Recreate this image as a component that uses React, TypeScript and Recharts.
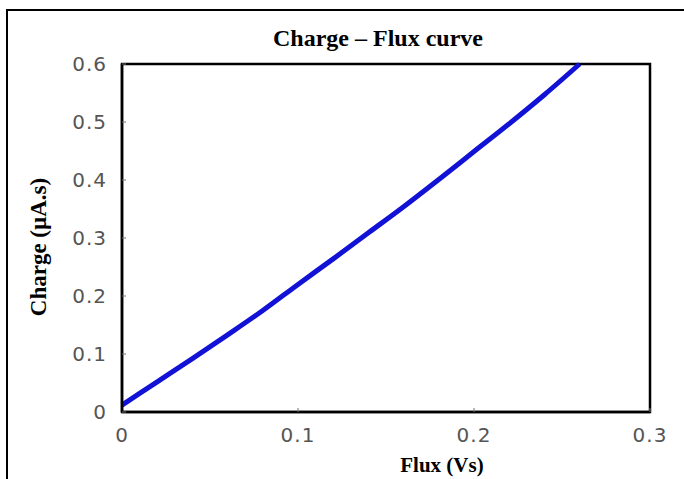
import { LineChart, Line, XAxis, YAxis, ReferenceArea } from "recharts";

const flux = [0, 0.02, 0.04, 0.06, 0.08, 0.1, 0.12, 0.14, 0.16, 0.18, 0.2, 0.22, 0.24, 0.26];
const charge = [0.012, 0.052, 0.092, 0.133, 0.175, 0.22, 0.264, 0.309, 0.354, 0.401, 0.449, 0.497, 0.547, 0.6];
const xTicks = [0, 0.1, 0.2, 0.3];
const yTicks = [0, 0.1, 0.2, 0.3, 0.4, 0.5, 0.6];

const data = flux.map((f, i) => ({ flux: f, charge: charge[i] }));

const tickStyle = { fill: "#555", fontSize: 20, fontFamily: "DejaVu Sans", letterSpacing: 1 };
const serif = "Liberation Serif, Times New Roman, serif";

export default function App() {
  return (
    <div
      style={{
        position: "absolute",
        left: 0,
        top: 0,
        width: 684,
        height: 479,
        overflow: "hidden",
        background: "#fff"
      }}
    >
      <div
        style={{
          position: "absolute",
          left: 6,
          top: 9,
          width: 1000,
          height: 1000,
          border: "2px solid #000"
        }}
      />
      <div style={{ position: "absolute", left: 0, top: 0 }}>
        <LineChart
          width={684}
          height={479}
          data={data}
          margin={{ top: 64, right: 34, left: 0, bottom: 0 }}
        >
          <XAxis
            dataKey="flux"
            type="number"
            domain={[0, 0.3]}
            ticks={xTicks}
            height={67}
            axisLine={{ stroke: "#000", strokeWidth: 2.5 }}
            tickLine={{ stroke: "#777" }}
            tickSize={-4}
            tickMargin={20}
            tick={tickStyle}
          />
          <YAxis
            type="number"
            domain={[0, 0.6]}
            ticks={yTicks}
            width={122}
            axisLine={{ stroke: "#000", strokeWidth: 2.5 }}
            tickLine={{ stroke: "#777" }}
            tickSize={-4}
            tickMargin={19}
            tick={tickStyle}
          />
          <ReferenceArea
            x1={0}
            x2={0.3}
            y1={0}
            y2={0.6}
            fill="none"
            fillOpacity={0}
            stroke="#000"
            strokeWidth={2.5}
            strokeOpacity={1}
            ifOverflow="visible"
          />
          <Line
            type="monotone"
            dataKey="charge"
            stroke="#1212d6"
            strokeWidth={5}
            dot={false}
            isAnimationActive={false}
          />
        </LineChart>
      </div>
      <svg
        width={684}
        height={479}
        style={{ position: "absolute", left: 0, top: 0, pointerEvents: "none" }}
      >
        <text x={378} y={46} textAnchor="middle" fontFamily={serif} fontWeight="bold" fontSize={24}>
          Charge – Flux curve
        </text>
        <text x={442} y={472} textAnchor="middle" fontFamily={serif} fontWeight="bold" fontSize={21}>
          Flux (Vs)
        </text>
        <text
          x={0}
          y={0}
          transform="translate(46 247) rotate(-90)"
          textAnchor="middle"
          fontFamily={serif}
          fontWeight="bold"
          fontSize={23}
        >
          Charge (µA.s)
        </text>
      </svg>
    </div>
  );
}
